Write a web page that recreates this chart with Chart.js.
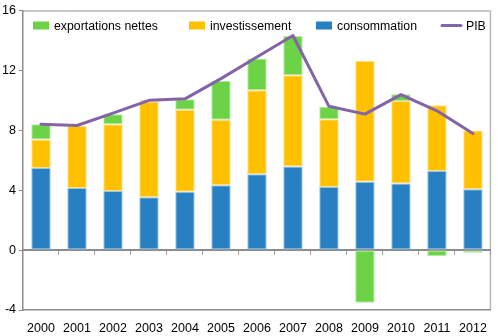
<!DOCTYPE html>
<html>
<head>
<meta charset="utf-8">
<script src="https://cdn.jsdelivr.net/npm/chart.js@4/dist/chart.umd.min.js"></script>
<style>
  html, body { margin: 0; padding: 0; background: #fff; }
  #wrap { width: 498px; height: 336px; }
</style>
</head>
<body>
<div id="wrap"><canvas id="c" width="498" height="336"></canvas></div>
<script>
const years = ['2000','2001','2002','2003','2004','2005','2006','2007','2008','2009','2010','2011','2012'];
const consommation = [5.49, 4.15, 3.95, 3.53, 3.89, 4.33, 5.07, 5.58, 4.22, 4.56, 4.44, 5.29, 4.07];
const investissement = [1.89, 4.14, 4.45, 6.40, 5.49, 4.38, 5.60, 6.09, 4.51, 8.06, 5.52, 4.38, 3.91];
const exportationsNettes = [1.02, 0.00, 0.67, 0.07, 0.69, 2.58, 2.13, 2.62, 0.85, -3.51, 0.44, -0.40, -0.18];
const pib = [8.40, 8.32, 9.15, 10.00, 10.10, 11.45, 12.90, 14.33, 9.60, 9.08, 10.38, 9.30, 7.78];
const yTicks = [-4, 0, 4, 8, 12, 16];

const FONT = 'Liberation Sans';
Chart.defaults.font.family = FONT;
Chart.defaults.font.size = 12;
Chart.defaults.color = '#000';

const COLORS = {
  exp: '#6cd246', expB: '#b6e9a2',
  inv: '#ffc000', invB: '#ffe08a',
  con: '#2680c2', conB: '#9cc3e3',
  pib: '#8464a8'
};

const framePlugin = {
  id: 'frame',
  beforeDraw(chart) {
    const {ctx, chartArea: a} = chart;
    ctx.save();
    ctx.strokeStyle = '#b8b8b8';
    ctx.lineWidth = 1.5;
    ctx.beginPath();
    ctx.moveTo(a.left, a.top + 0.5);
    ctx.lineTo(a.right - 0.5, a.top + 0.5);
    ctx.lineTo(a.right - 0.5, a.bottom);
    ctx.stroke();
    ctx.restore();
  }
};

const legendPlugin = {
  id: 'customLegend',
  afterDatasetsDraw(chart) {
    const {ctx, chartArea: a} = chart;
    const order = [2, 1, 0, 3];
    const slots = [10, 166, 293, 418];
    ctx.save();
    ctx.font = '12.3px "' + FONT + '"';
    ctx.textBaseline = 'middle';
    const cy = a.top + 15;
    order.forEach((i, k) => {
      const ds = chart.data.datasets[i];
      let x = a.left + slots[k];
      if (ds.type === 'line') {
        ctx.strokeStyle = ds.borderColor;
        ctx.lineWidth = 3;
        ctx.lineCap = 'round';
        ctx.beginPath();
        ctx.moveTo(x + 1, cy);
        ctx.lineTo(x + 20, cy);
        ctx.stroke();
        x += 25;
      } else {
        ctx.fillStyle = ds.backgroundColor;
        ctx.fillRect(x, cy - 4, 16, 8);
        x += 21;
      }
      ctx.fillStyle = '#000';
      ctx.fillText(ds.label, x, cy + 1);
    });
    ctx.restore();
  }
};

const barCommon = {
  type: 'bar',
  categoryPercentage: 1.0,
  barPercentage: 0.54,
  borderWidth: 1,
  borderSkipped: false,
  stack: 'pib-parts',
  order: 1
};

new Chart(document.getElementById('c'), {
  data: {
    labels: years,
    datasets: [
      Object.assign({}, barCommon, { label: 'consommation', data: consommation, backgroundColor: COLORS.con, borderColor: COLORS.conB }),
      Object.assign({}, barCommon, { label: 'investissement', data: investissement, backgroundColor: COLORS.inv, borderColor: COLORS.invB }),
      Object.assign({}, barCommon, { label: 'exportations nettes', data: exportationsNettes, backgroundColor: COLORS.exp, borderColor: COLORS.expB }),
      {
        type: 'line', label: 'PIB', data: pib, stack: 'pib-line', order: 0,
        borderColor: COLORS.pib, backgroundColor: COLORS.pib,
        borderWidth: 3, pointRadius: 0, tension: 0, borderJoinStyle: 'round', borderCapStyle: 'round'
      }
    ]
  },
  options: {
    responsive: false,
    animation: false,
    devicePixelRatio: 1,
    layout: { padding: { top: 10, right: 4, left: 0, bottom: 0 } },
    plugins: { legend: { display: false }, tooltip: { enabled: false } },
    scales: {
      x: {
        stacked: true,
        position: 'bottom',
        offset: true,
        grid: { display: false, drawTicks: false },
        border: { display: true, color: '#8c8c8c', width: 1.5 },
        ticks: { padding: 11, maxRotation: 0, autoSkip: false, font: { size: 12.5 } },
        afterFit(s) { s.height = 26; }
      },
      x0: {
        type: 'category',
        position: { y: 0 },
        offset: true,
        grid: { offset: true, drawOnChartArea: false, drawTicks: true, tickLength: 4, color: '#a0a0a0', lineWidth: 1 },
        border: { display: true, color: '#8c8c8c', width: 2 },
        ticks: { display: false }
      },
      y: {
        stacked: true,
        min: -4, max: 16,
        afterBuildTicks(s) { s.ticks = yTicks.map(v => ({ value: v })); },
        grid: { drawOnChartArea: false, drawTicks: true, tickLength: 4, color: '#8c8c8c' },
        border: { display: true, color: '#8c8c8c', width: 1.5 },
        ticks: { padding: 3, font: { size: 12.5 } },
        afterFit(s) { s.width = 23; }
      }
    }
  },
  plugins: [framePlugin, legendPlugin]
});
</script>
</body>
</html>
